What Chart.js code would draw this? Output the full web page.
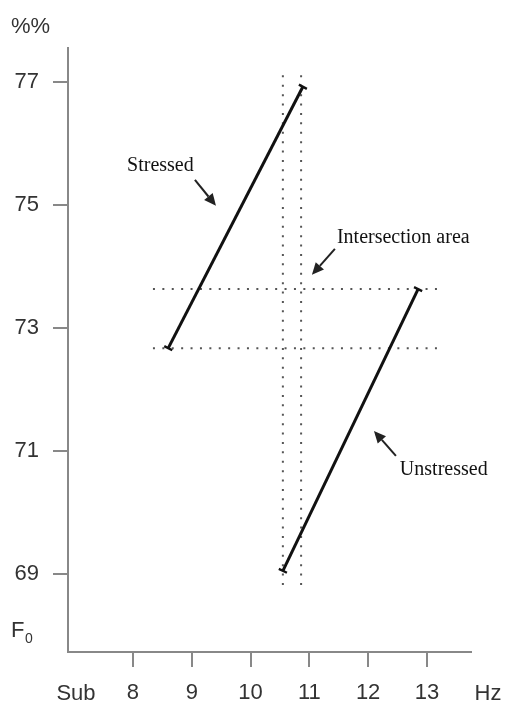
<!DOCTYPE html>
<html><head><meta charset="utf-8">
<script src="https://cdn.jsdelivr.net/npm/chart.js@4"></script>
<style>html,body{margin:0;padding:0;background:#fff}</style>
</head><body>
<canvas id="c" width="505" height="701"></canvas>
<script>
// ---- data ----
const xTicks = [8, 9, 10, 11, 12, 13];
const yTicks = [69, 71, 73, 75, 77];
const stressedHz = [8.6, 10.89];
const stressedPct = [72.67, 76.92];
const unstressedHz = [10.55, 12.85];
const unstressedPct = [69.05, 73.63];
const guideHz = [10.55, 10.86];      // vertical dotted guides
const guidePct = [72.67, 73.63];     // horizontal dotted guides
const guideHzSpan = [8.34, 13.19];   // extent of horizontal guides
const guidePctSpan = [68.82, 77.15]; // extent of vertical guides
const labels = ['Stressed', 'Intersection area', 'Unstressed'];

// ---- annotation placement (data units) ----
const labelPos = [[7.9, 75.55], [11.47, 74.38], [12.54, 70.61]];
const arrows = [
  [[9.054, 75.407], [9.412, 74.984]],
  [[11.435, 74.285], [11.044, 73.862]],
  [[12.473, 70.919], [12.099, 71.325]]
];

const pts = (xs, ys) => xs.map((x, i) => ({x: x, y: ys[i]}));
const guideSets = [];
guidePct.forEach(v => guideSets.push(pts(guideHzSpan, [v, v])));
guideHz.forEach(v => guideSets.push(pts([v, v], guidePctSpan)));

const dotted = d => ({data: d, showLine: true, borderColor: '#555', borderWidth: 2,
  borderDash: [2, 7.4], pointRadius: 0, borderCapStyle: 'butt', order: 2});

const annot = {
  id: 'annot',
  afterDraw(chart) {
    const ctx = chart.ctx, xs = chart.scales.x, ys = chart.scales.y, ca = chart.chartArea;
    ctx.save();
    ctx.fillStyle = '#111';
    ctx.font = '20px "Liberation Serif", "Times New Roman", serif';
    ctx.textBaseline = 'alphabetic';
    ctx.textAlign = 'left';
    labels.forEach((t, i) => ctx.fillText(t, xs.getPixelForValue(labelPos[i][0]), ys.getPixelForValue(labelPos[i][1])));
    ctx.strokeStyle = '#222'; ctx.fillStyle = '#222'; ctx.lineWidth = 2;
    arrows.forEach(a => {
      const x0 = xs.getPixelForValue(a[0][0]), y0 = ys.getPixelForValue(a[0][1]);
      const x1 = xs.getPixelForValue(a[1][0]), y1 = ys.getPixelForValue(a[1][1]);
      const ang = Math.atan2(y1 - y0, x1 - x0), L = 12, W = 5.5;
      const bx = x1 - L * Math.cos(ang), by = y1 - L * Math.sin(ang);
      ctx.beginPath(); ctx.moveTo(x0, y0); ctx.lineTo(bx, by); ctx.stroke();
      ctx.beginPath(); ctx.moveTo(x1, y1);
      ctx.lineTo(bx + W * Math.sin(ang), by - W * Math.cos(ang));
      ctx.lineTo(bx - W * Math.sin(ang), by + W * Math.cos(ang));
      ctx.closePath(); ctx.fill();
    });
    // axis captions
    ctx.fillStyle = '#333';
    ctx.font = '22px "Liberation Sans", Arial, sans-serif';
    ctx.textAlign = 'left'; ctx.textBaseline = 'alphabetic';
    ctx.fillText('%%', 11, ca.top - 15);
    ctx.fillText('F', 11, 637);
    ctx.font = '14px "Liberation Sans", Arial, sans-serif';
    ctx.fillText('0', 25, 643);
    ctx.font = '22px "Liberation Sans", Arial, sans-serif';
    ctx.textAlign = 'center';
    ctx.fillText('Sub', 76, 700);
    ctx.fillText('Hz', 488, 700);
    ctx.restore();
  }
};

new Chart(document.getElementById('c'), {
  type: 'scatter',
  data: {
    datasets: [
      {data: pts(stressedHz, stressedPct), showLine: true, borderColor: '#111', borderWidth: 3,
        pointStyle: 'line', rotation: 27.4, pointRadius: 4.5, pointBorderWidth: 2.4, pointBorderColor: '#111', order: 1},
      {data: pts(unstressedHz, unstressedPct), showLine: true, borderColor: '#111', borderWidth: 3,
        pointStyle: 'line', rotation: 25.6, pointRadius: 4.5, pointBorderWidth: 2.4, pointBorderColor: '#111', order: 1},
      ...guideSets.map(dotted)
    ]
  },
  options: {
    responsive: false, animation: false, devicePixelRatio: 1,
    layout: {padding: {top: 48, right: 34, left: 0, bottom: 0}},
    plugins: {legend: {display: false}, tooltip: {enabled: false}},
    scales: {
      x: {
        type: 'linear', min: 6.895, max: 13.75,
        afterBuildTicks: s => { s.ticks = xTicks.map(v => ({value: v})); },
        afterFit: s => { s.height = 49; },
        ticks: {color: '#333', font: {size: 22, family: '"Liberation Sans", Arial, sans-serif'}, padding: 13, maxRotation: 0, autoSkip: false},
        grid: {drawOnChartArea: false, drawTicks: true, tickLength: 15, color: '#888', lineWidth: 2},
        border: {display: true, color: '#888', width: 2}
      },
      y: {
        type: 'linear', min: 67.73, max: 77.55,
        afterBuildTicks: s => { s.ticks = yTicks.map(v => ({value: v})); },
        afterFit: s => { s.width = 68; },
        ticks: {color: '#333', font: {size: 22, family: '"Liberation Sans", Arial, sans-serif'}, padding: 14, autoSkip: false},
        grid: {drawOnChartArea: false, drawTicks: true, tickLength: 15, color: '#888', lineWidth: 2},
        border: {display: true, color: '#888', width: 2}
      }
    }
  },
  plugins: [annot]
});
</script>
</body></html>
